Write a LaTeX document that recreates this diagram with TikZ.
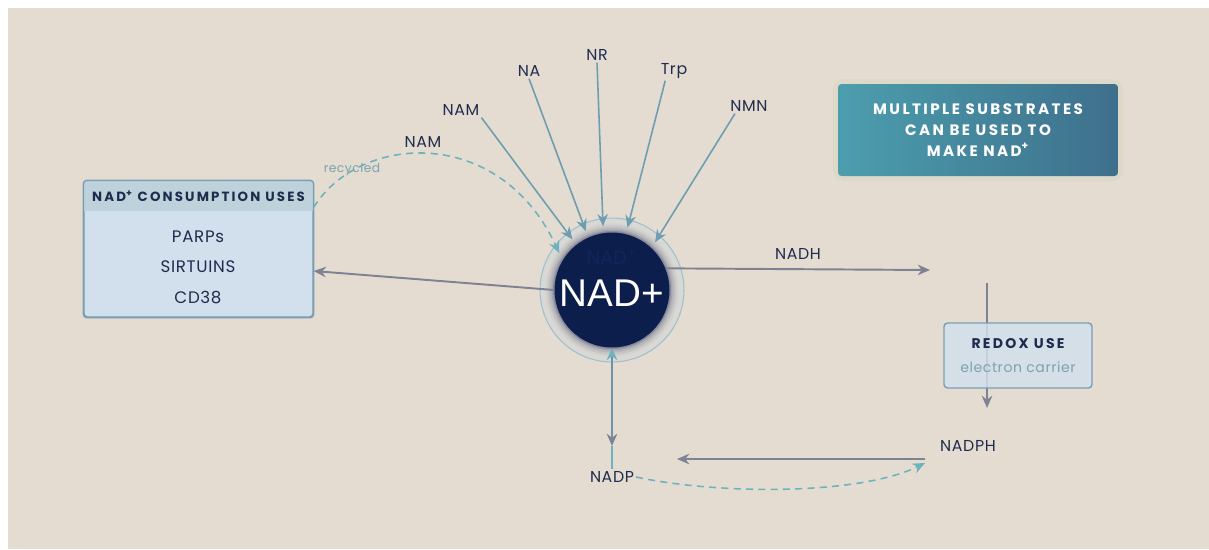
\documentclass[tikz,border=0pt]{standalone}
\usepackage{fontspec}
\setmainfont{Poppins}
\newfontfamily\widefont[LetterSpace=16]{Poppins}
\newfontfamily\airfont[LetterSpace=4]{Poppins}
\newfontfamily\plainsans{Liberation Sans}
\usetikzlibrary{positioning, arrows.meta, calc}

\definecolor{bgbeige}{HTML}{E5DCD1}
\definecolor{navy}{HTML}{0C1E4B}
\definecolor{ghostnavy}{HTML}{12245A}
\definecolor{txtnavy}{HTML}{1F2C4E}
\definecolor{hdrblue}{HTML}{BED2DC}
\definecolor{bodyblue}{HTML}{D2E0EE}
\definecolor{boxedge}{HTML}{7A9EB3}
\definecolor{feedteal}{HTML}{6C9DB0}
\definecolor{flowgray}{HTML}{7E8393}
\definecolor{recteal}{HTML}{6CB3BD}
\definecolor{softteal}{HTML}{7BA4AE}
\definecolor{vertblue}{HTML}{6D93A8}
\definecolor{tealtop}{HTML}{4C9EAE}
\definecolor{tealbot}{HTML}{3E6F8C}
\definecolor{glowgray}{HTML}{4A5070}
\definecolor{haze}{HTML}{DAD8D4}
\definecolor{haloring}{HTML}{9DC0CF}
\definecolor{glowtint}{HTML}{D9D7C4}

\begin{document}
\begin{tikzpicture}[x=0.02cm, y=-0.02cm, >={Stealth[length=7pt,width=6pt]},
  lbl/.style={font=\airfont\fontsize{9}{11}\selectfont, text=txtnavy, inner sep=1pt},
  headtxt/.style={font=\widefont\bfseries\fontsize{7.6}{9}\selectfont, text=txtnavy},
  itemtxt/.style={font=\airfont\fontsize{9.5}{11}\selectfont, text=txtnavy},
  feed/.style={->, feedteal, line width=0.9pt},
  flow/.style={->, flowgray, line width=1.1pt},
  recyc/.style={->, recteal, line width=0.9pt, dash pattern=on 4pt off 3pt},
  usebox/.style={draw=boxedge, fill=bodyblue, rounded corners=2pt, line width=0.8pt}]

\useasboundingbox (0,0) rectangle (1209,549);
\fill[white] (0,0) rectangle (1209,549);
\fill[bgbeige] (8,8) rectangle (1209,549);

% NAD+ hub
\fill[haze] (612,290) circle [radius=1.44cm];
\draw[haloring, line width=0.6pt] (612,290) circle [radius=1.44cm];
\foreach \r/\op in {1.33/0.05, 1.29/0.08, 1.25/0.12, 1.21/0.18, 1.18/0.3}
  \fill[glowgray, opacity=\op] (612,290) circle [radius=\r cm];
\node[circle, fill=navy, minimum size=2.3cm, inner sep=0pt] (nad) at (612,290) {};
\node[font=\fontsize{11}{12}\selectfont, text=ghostnavy] (ghost) at (612,257) {NAD\textsuperscript{+}};
\node[font=\plainsans\fontsize{22}{24}\selectfont, text=white] (nadtxt) at (612,293) {NAD+};
\node[circle, minimum size=2.56cm, inner sep=0pt] (rim) at (nad) {};

% substrates
\node[lbl] (namtop) at (461,110) {NAM};
\node[lbl] (na) at (529,71) {NA};
\node[lbl] (nr) at (597,55) {NR};
\node[lbl] (trp) at (674,71) {Trp};
\node[lbl] (nmn) at (749,106) {NMN};
\node[lbl] (namrec) at (423,142) {NAM};

\draw[feed] (namtop.south east) -- (rim.128);
\draw[feed] (na.south) -- (rim.114);
\draw[feed] (nr.south) -- (rim.98);
\draw[feed] ([xshift=-5pt]trp.south) -- (rim.76);
\draw[feed] ([xshift=-8pt]nmn.south) -- (rim.48);

% consumption box
\node[usebox, minimum width=4.58cm, minimum height=2.72cm] (cons) at (198.5,249) {};
\begin{scope}
  \clip[rounded corners=2pt] (cons.north west) rectangle (cons.south east);
  \fill[hdrblue] (cons.north west) rectangle ([yshift=-0.62cm]cons.north east);
\end{scope}
\draw[boxedge, line width=0.8pt, rounded corners=2pt] (cons.north west) rectangle (cons.south east);
\node[headtxt] (conshead) at ([yshift=-0.32cm]cons.north) {NAD\textsuperscript{+} CONSUMPTION USES};
\node[itemtxt] (parps) at (198,237) {PARPs};
\node[itemtxt] (sirt) at (198,267) {SIRTUINS};
\node[itemtxt] (cd) at (198,298) {CD38};

\draw[flow] (nad.west) -- ([yshift=-0.44cm]cons.east);
\draw[recyc] ([yshift=-0.54cm]cons.north east) .. controls (360,133) and (500,125) .. (rim.145);
\node[font=\airfont\fontsize{7}{8}\selectfont, text=softteal] (recyclbl) at (352,170) {recycled};

% substrate note
\fill[glowtint, opacity=0.6, rounded corners=6pt] ($(838,84)+(-5,-5)$) rectangle ($(1118,176)+(5,5)$);
\node[rounded corners=2pt, left color=tealtop, right color=tealbot, minimum width=5.6cm,
  minimum height=1.84cm, align=center, text=white,
  font=\widefont\bfseries\fontsize{8.6}{12}\selectfont] (substr) at (978,130)
  {MULTIPLE SUBSTRATES\\CAN BE USED TO\\MAKE NAD\textsuperscript{+}};

% redox side
\coordinate (nadhend) at (930,270);
\draw[flow] (nad.22) -- (nadhend);
\node[lbl] (nadh) at (798,254) {NADH};

\coordinate (redtop) at (987,283);
\coordinate (redbot) at (987,408);
\draw[flow] (redtop) -- (redbot);
\node[usebox, fill opacity=0.82, minimum width=2.96cm, minimum height=1.3cm] (redox) at (1018,355.5) {};
\node[headtxt, font=\widefont\bfseries\fontsize{8}{9}\selectfont] (redoxhead) at (1018,344) {REDOX USE};
\node[font=\airfont\fontsize{8}{9}\selectfont, text=softteal] (redoxsub) at (1018,367) {electron carrier};

% NADP cycle
\node[lbl] (nadp) at (612,477) {NADP};
\node[lbl] (nadph) at (968,446) {NADPH};
\coordinate (nadpin) at (612,446);
\coordinate (backstart) at (925,459);
\coordinate (backend) at (677,459);
\coordinate (nadphtip) at (925,463);
\draw[{Stealth[length=7pt,width=6pt,color=recteal]}-{Stealth[length=7pt,width=6pt,color=flowgray]},
  vertblue, line width=0.9pt] (nad.south) -- (nadpin);
\draw[recteal, line width=0.9pt] (nadpin) -- (nadp.north);
\draw[flow] (backstart) -- (backend);
\draw[recyc] (nadp.east) .. controls (720,495) and (860,495) .. (nadphtip);

\end{tikzpicture}
\end{document}
